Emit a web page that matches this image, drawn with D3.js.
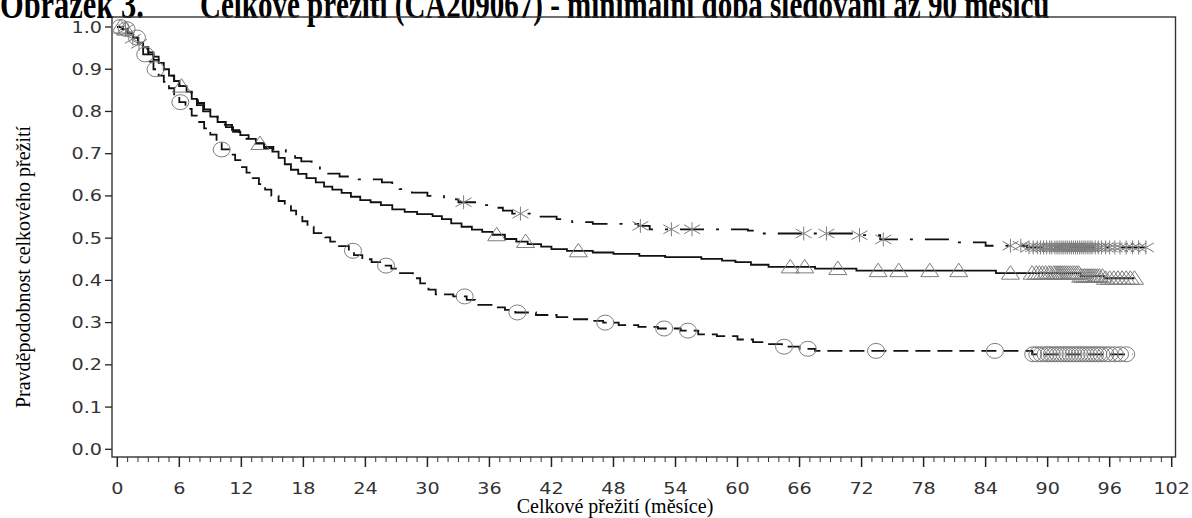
<!DOCTYPE html>
<html>
<head>
<meta charset="utf-8">
<script src="https://cdn.jsdelivr.net/npm/d3@7"></script>
<style>
  html, body { margin: 0; padding: 0; background: #fff; }
  svg { display: block; }
</style>
</head>
<body>
<svg id="chart" width="1192" height="518"></svg>
<script>
// Kaplan–Meier overall survival, three arms: [month, survival after the step]
const nivoIpiSteps = [
  [0,1],[0.5,0.995],[1,0.985],[1.5,0.972],[2,0.96],[2.5,0.948],[3,0.935],[3.5,0.922],[4,0.91],
  [4.5,0.897],[5,0.885],[5.5,0.872],[6,0.86],[6.6,0.845],[7.2,0.832],[7.8,0.82],[8.4,0.805],
  [9,0.792],[9.7,0.78],[10.4,0.768],[11.1,0.756],[11.8,0.745],[12.5,0.735],[13.3,0.725],
  [14.2,0.716],[15.1,0.709],[16.3,0.701],[17.2,0.69],[17.8,0.682],[18.8,0.67],[19.6,0.66],
  [20.4,0.653],[21.5,0.646],[22.6,0.639],[25.6,0.632],[26.6,0.625],[27.3,0.616],[28.5,0.608],
  [30,0.6],[31.6,0.592],[33,0.585],[35,0.578],[36.5,0.572],[37.3,0.565],[38.2,0.558],
  [40.5,0.551],[42.5,0.545],[44,0.538],[46,0.534],[50.4,0.529],[51.5,0.521],[61,0.518],
  [62.3,0.511],[71.8,0.507],[73.8,0.497],[80.8,0.49],[84,0.482],[88,0.478]
];
const nivoSteps = [
  [0,1],[0.5,0.995],[1,0.985],[1.5,0.975],[2,0.963],[2.5,0.952],[3,0.94],[3.5,0.93],[4,0.915],
  [4.5,0.9],[5,0.885],[5.5,0.872],[6,0.86],[6.7,0.847],[7.2,0.83],[7.7,0.815],[8.3,0.8],
  [9,0.788],[9.7,0.775],[10.5,0.763],[11.2,0.752],[11.9,0.744],[12.7,0.735],[13.4,0.724],
  [14.2,0.713],[15,0.705],[15.6,0.69],[16.2,0.675],[16.8,0.662],[17.5,0.652],[18.3,0.642],
  [19.2,0.632],[20,0.622],[20.8,0.615],[21.7,0.607],[22.6,0.598],[23.5,0.59],[24.5,0.585],
  [25.5,0.578],[26.6,0.568],[27.8,0.562],[29,0.557],[30.5,0.552],[31.4,0.545],[32.3,0.535],
  [33.3,0.527],[34.3,0.52],[35.3,0.515],[36.3,0.508],[37.5,0.498],[38.6,0.492],[39.7,0.486],
  [41,0.48],[42,0.474],[43.5,0.47],[46,0.466],[48,0.463],[50.5,0.458],[53,0.455],[56.5,0.451],
  [58.5,0.447],[59.8,0.443],[61.3,0.437],[63,0.432],[67.5,0.428],[71.5,0.423],[85,0.417],
  [93.2,0.41],[95.5,0.405]
];
const ipiSteps = [
  [0,1],[0.5,0.995],[1,0.985],[1.5,0.975],[2,0.96],[2.5,0.935],[3,0.918],[3.5,0.9],[4,0.885],
  [4.5,0.87],[5,0.855],[5.5,0.838],[6,0.822],[6.6,0.806],[7.2,0.79],[7.8,0.775],[8.4,0.76],
  [9,0.745],[9.6,0.728],[10.1,0.71],[10.8,0.698],[11.4,0.685],[11.9,0.668],[12.5,0.655],
  [13.1,0.642],[13.7,0.628],[14.3,0.615],[14.9,0.6],[15.6,0.588],[16.2,0.578],[16.8,0.565],
  [17.3,0.553],[17.9,0.54],[18.4,0.527],[19,0.512],[20.1,0.502],[20.6,0.492],[21.3,0.481],
  [22.4,0.47],[22.9,0.46],[23.7,0.45],[24.6,0.443],[25.6,0.435],[26.5,0.428],[27.2,0.417],
  [28.6,0.405],[29.3,0.393],[30.1,0.378],[30.8,0.367],[32.5,0.362],[33.8,0.354],[34.6,0.342],
  [36.3,0.336],[37.5,0.33],[38.5,0.324],[40.5,0.318],[42.5,0.313],[44,0.308],[45.7,0.304],
  [47,0.3],[48.5,0.294],[50.4,0.29],[52.3,0.286],[54.5,0.281],[56.2,0.272],[58,0.268],
  [60,0.26],[61.5,0.254],[62.8,0.249],[64.3,0.243],[66,0.238],[67.5,0.233],[88.5,0.225]
];

// last follow-up time of each arm (curve ends here)
const nivoIpiEnd = 99.7;
const nivoEnd = 98.4;
const ipiEnd = 98.2;

// censoring times (months)
const nivoIpiCensored = [
  0.8,1.5,2.1,33.5,39.0,50.6,53.6,55.6,66.4,68.6,71.8,74.1,86.4,87.4,
  88.2,88.6,89.0,89.3,89.6,89.9,90.2,90.4,90.7,90.9,91.1,91.3,91.5,91.7,91.9,92.1,92.3,
  92.5,92.7,92.9,93.1,93.3,93.5,93.7,93.9,94.1,94.3,94.6,94.9,95.2,95.6,96.0,96.5,97.0,
  97.6,98.2,98.8,99.5
];
const nivoCensored = [
  0.3,0.8,6.2,13.8,36.7,39.5,44.6,65.1,66.5,69.7,73.6,75.6,78.6,81.4,86.4,
  88.5,88.9,89.2,89.5,89.8,90.1,90.3,90.6,90.8,91.0,91.2,91.4,91.6,91.8,92.0,92.2,92.4,
  92.6,92.8,93.0,93.2,93.4,93.6,93.8,94.0,94.2,94.4,94.6,94.8,95.0,95.3,95.6,96.0,96.4,
  96.8,97.2,97.6,98.0,98.4
];
const ipiCensored = [
  0.3,0.9,1.9,2.7,3.7,6.1,10.1,22.8,26.0,33.6,38.7,47.2,52.9,55.2,64.5,66.8,73.4,84.9,
  88.6,89.0,89.4,89.8,90.1,90.4,90.7,91.0,91.3,91.6,91.9,92.2,92.5,92.8,93.1,93.4,93.7,
  94.0,94.3,94.6,94.9,95.2,95.6,96.0,96.5,97.0,97.6
];

const xTicks = d3.range(0, 103, 6);
const xMinorTicks = d3.range(0, 103, 1);
const yTicks = d3.range(0, 11).map(d => d / 10);

const titleLead = "Obrázek 3.";
const titleText = "Celkové přežití (CA209067) - minimální doba sledování až 90 měsíců";
const xLabel = "Celkové přežití (měsíce)";
const yLabel = "Pravděpodobnost celkového přežití";

// ---- layout ----
const svg = d3.select("#chart");
const frame = { left: 112, right: 1175.5, top: 17, bottom: 457 };
const x = d3.scaleLinear().domain([0, 102]).range([117.3, 1171.7]);
const y = d3.scaleLinear().domain([0, 1]).range([449.3, 27]);

const serif = "'Liberation Serif','Times New Roman',Times,serif";
const sans = "'DejaVu Sans',Verdana,sans-serif";
const markerGrey = "#7d7d7d";

// title (its upper part runs off the top edge)
svg.append("text").attr("transform", "translate(0,18) scale(1.05,1.35)")
  .attr("font-family", serif).attr("font-weight", "bold").attr("font-size", 29)
  .attr("fill", "#000").text(titleLead);
svg.append("text").attr("transform", "translate(200,18) scale(1,1.35)")
  .attr("font-family", serif).attr("font-weight", "bold").attr("font-size", 29)
  .attr("fill", "#000").text(titleText);

// plot frame
svg.append("rect")
  .attr("x", frame.left).attr("y", frame.top)
  .attr("width", frame.right - frame.left).attr("height", frame.bottom - frame.top)
  .attr("fill", "none").attr("stroke", "#333").attr("stroke-width", 1.4);

// y axis
const yAxis = svg.append("g");
yAxis.selectAll("line.tick").data(yTicks).join("line")
  .attr("x1", frame.left - 7).attr("x2", frame.left)
  .attr("y1", d => y(d)).attr("y2", d => y(d))
  .attr("stroke", "#222").attr("stroke-width", 1.3);
yAxis.selectAll("text").data(yTicks).join("text")
  .attr("transform", d => `translate(${frame.left - 10},${y(d) + 5.5}) scale(1.28,1)`)
  .attr("text-anchor", "end")
  .attr("font-family", sans).attr("font-size", 15).attr("fill", "#333")
  .text(d3.format(".1f"));

// x axis
const xAxis = svg.append("g");
xAxis.selectAll("line.minor").data(xMinorTicks.filter(d => d % 6 !== 0)).join("line")
  .attr("class", "minor")
  .attr("x1", d => x(d)).attr("x2", d => x(d))
  .attr("y1", frame.bottom).attr("y2", frame.bottom + 5)
  .attr("stroke", "#333").attr("stroke-width", 1);
xAxis.selectAll("line.major").data(xTicks).join("line")
  .attr("class", "major")
  .attr("x1", d => x(d)).attr("x2", d => x(d))
  .attr("y1", frame.bottom).attr("y2", frame.bottom + 10)
  .attr("stroke", "#222").attr("stroke-width", 1.5);
xAxis.selectAll("text").data(xTicks).join("text")
  .attr("transform", d => `translate(${x(d)},493.5) scale(1.28,1)`)
  .attr("text-anchor", "middle")
  .attr("font-family", sans).attr("font-size", 15).attr("fill", "#333")
  .text(d => d);

// axis titles
svg.append("text").attr("x", 615).attr("y", 513)
  .attr("text-anchor", "middle").attr("font-family", serif).attr("font-size", 20)
  .attr("fill", "#000").text(xLabel);
svg.append("text").attr("transform", "translate(30,267) rotate(-90)")
  .attr("text-anchor", "middle").attr("font-family", serif).attr("font-size", 20)
  .attr("fill", "#000").text(yLabel);

// ---- curves ----
function survAt(steps, t) {
  let v = steps[0][1];
  for (const [m, s] of steps) { if (m <= t) v = s; else break; }
  return v;
}
const stepLine = d3.line().x(d => x(d[0])).y(d => y(d[1])).curve(d3.curveStepAfter);

const arms = [
  { steps: nivoIpiSteps, end: nivoIpiEnd, censored: nivoIpiCensored, dash: "24,12,3,12", marker: "star" },
  { steps: nivoSteps, end: nivoEnd, censored: nivoCensored, dash: null, marker: "triangle" },
  { steps: ipiSteps, end: ipiEnd, censored: ipiCensored, dash: "15,7", marker: "circle" }
];

const plot = svg.append("g");
arms.forEach(arm => {
  const pts = arm.steps.concat([[arm.end, arm.steps[arm.steps.length - 1][1]]]);
  plot.append("path").datum(pts)
    .attr("d", stepLine)
    .attr("fill", "none").attr("stroke", "#111").attr("stroke-width", 1.8)
    .attr("stroke-dasharray", arm.dash);
});

// censoring marks
arms.forEach(arm => {
  const g = plot.append("g").attr("fill", "none").attr("stroke", markerGrey).attr("stroke-width", 1);
  const marks = g.selectAll("g").data(arm.censored).join("g")
    .attr("transform", d => `translate(${x(d)},${y(survAt(arm.steps, d))})`);
  if (arm.marker === "circle") {
    marks.append("ellipse").attr("rx", 8.5).attr("ry", 7.5);
  } else if (arm.marker === "triangle") {
    marks.append("path").attr("d", "M0,-7.5L9,6L-9,6Z");
  } else {
    marks.append("path").attr("d", "M0,-7V7M-8,-4.5L8,4.5M-8,4.5L8,-4.5");
  }
});
</script>
</body>
</html>
